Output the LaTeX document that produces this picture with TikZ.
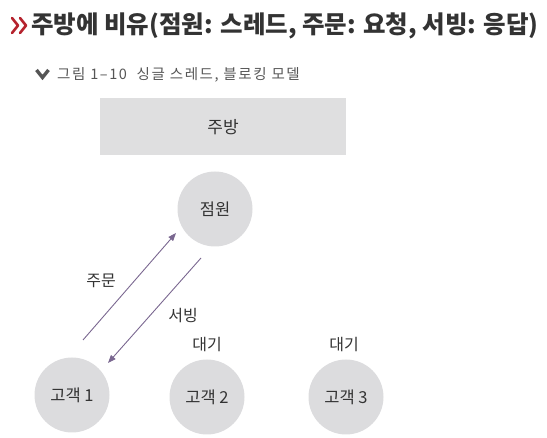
\documentclass[tikz,border=0pt]{standalone}
\usepackage{fontspec}
\newfontfamily\cjk{Noto Sans CJK KR}
\newfontfamily\cjkwide[LetterSpace=11]{Noto Sans CJK KR}
\usetikzlibrary{arrows.meta}
\definecolor{circfill}{HTML}{DCDCDE}
\definecolor{rectfill}{HTML}{DFDFE0}
\definecolor{txt}{HTML}{333333}
\definecolor{arrowc}{HTML}{7A6790}
\definecolor{chevred}{HTML}{B5232E}
\definecolor{capgray}{HTML}{555555}
\tikzset{
  circ/.style={circle, fill=circfill, minimum size=75pt, inner sep=0pt, font=\cjk\fontsize{16.5}{19}\selectfont, text=txt},
  lbl/.style={font=\cjk\fontsize{16}{19}\selectfont, text=txt, inner sep=0pt},
  conn/.style={arrowc, line width=0.9pt, -{Triangle[length=8pt,width=6pt]}}
}
\begin{document}
\begin{tikzpicture}[x=1pt,y=-1pt]
\useasboundingbox (0,0) rectangle (547,438);
% title chevrons
\draw[chevred, line width=2.6pt, line cap=round, line join=round] (12,18) -- (18,25.5) -- (12,33);
\draw[chevred, line width=2.6pt, line cap=round, line join=round] (20,18) -- (26,25.5) -- (20,33);
\node[anchor=west, inner sep=0pt, font=\cjk\bfseries\fontsize{24.5}{28}\selectfont, text=txt] (title) at (31,26) {주방에 비유(점원: 스레드, 주문: 요청, 서빙: 응답)};
% caption
\draw[capgray, line width=3.4pt, line join=miter] (36.5,70) -- (42.5,77.5) -- (48.5,70);
\node[anchor=west, inner sep=0pt, font=\cjkwide\fontsize{14.5}{17}\selectfont, text=capgray] (cap) at (57,75) {그림 1–10\ \ 싱글 스레드, 블로킹 모델};
% kitchen
\node[fill=rectfill, minimum width=246pt, minimum height=57pt, inner sep=0pt, font=\cjk\fontsize{17}{20}\selectfont, text=txt] (kitchen) at (223,127) {주방};
% circles
\node[circ] (staff) at (215,209) {점원};
\node[circ] (c1) at (72,395) {고객 1};
\node[circ] (c2) at (207,397) {고객 2};
\node[circ] (c3) at (346,397) {고객 3};
% arrows
\coordinate (o1) at (83,340);
\coordinate (o2) at (176,233);
\coordinate (s1) at (201,258);
\coordinate (s2) at (108,363);
\draw[conn] (o1) -- (o2);
\draw[conn] (s1) -- (s2);
% labels
\node[lbl] (order) at (101,281) {주문};
\node[lbl] (serve) at (183,316) {서빙};
\node[lbl] (w2) at (207,345) {대기};
\node[lbl] (w3) at (344,345) {대기};
\end{tikzpicture}
\end{document}
